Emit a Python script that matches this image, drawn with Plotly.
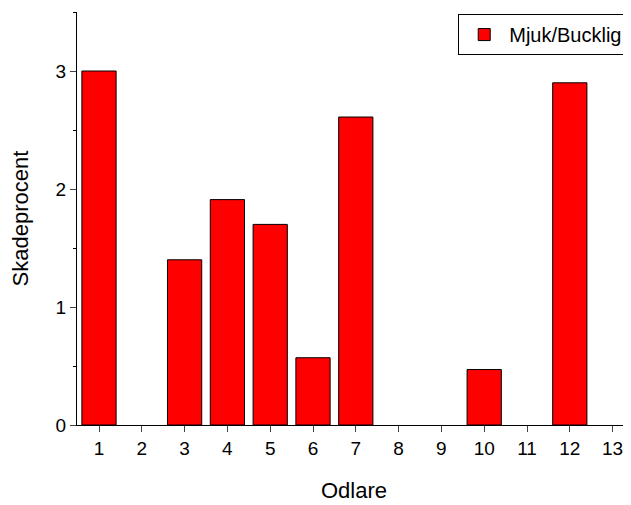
import plotly.graph_objects as go

categories = list(range(1, 14))
values = [3.0, 0, 1.40, 1.91, 1.70, 0.57, 2.61, 0, 0, 0.47, 0, 2.90, 0]
tick_labels = [str(c) for c in categories]

line_colors = ["black" if v > 0 else "rgba(0,0,0,0)" for v in values]

fig = go.Figure(go.Bar(x=categories, y=values, width=0.8, name="Mjuk/Bucklig",
                       marker=dict(color="#ff0000", line=dict(color=line_colors, width=1)),
                       showlegend=True))
fig.update_layout(
    width=623, height=497, paper_bgcolor="white", plot_bgcolor="white",
    margin=dict(l=69, r=0, t=4, b=80, autoexpand=False),
    font=dict(family="Liberation Sans, Arial", size=19, color="black"),
    legend=dict(x=0.995, y=0.995, xanchor="right", yanchor="top", bordercolor="black",
                borderwidth=1, font=dict(size=20), bgcolor="white", itemwidth=40),
    xaxis=dict(range=[0.486, 13.43], tickvals=categories, ticktext=tick_labels,
               showline=True, linecolor="black", linewidth=1, ticks="outside",
               ticklen=6, showgrid=False, zeroline=False, automargin=False,
               title=dict(text="Odlare", font=dict(size=22), standoff=24)),
    yaxis=dict(range=[0, 3.5], tickvals=[0, 1, 2, 3], showline=True, linecolor="black",
               linewidth=1, ticks="outside", ticklen=6, showgrid=False, zeroline=False,
               automargin=False,
               minor=dict(tickvals=[0.5, 1.5, 2.5, 3.5], ticks="outside", ticklen=3, tickcolor="black"),
               title=dict(text="Skadeprocent", font=dict(size=22), standoff=20)),
)
fig.write_html("out.html")
